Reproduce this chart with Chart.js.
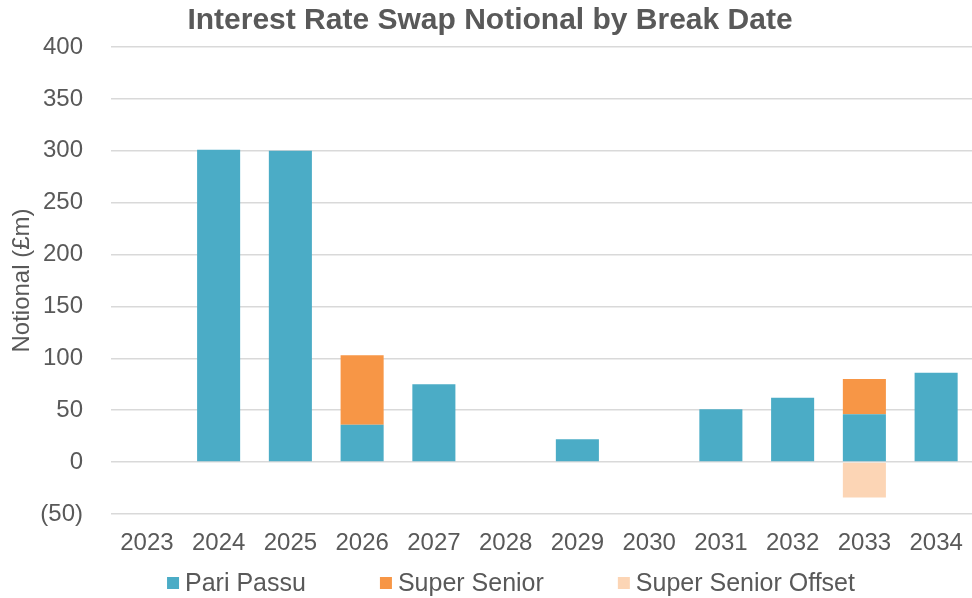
<!DOCTYPE html>
<html>
<head>
<meta charset="utf-8">
<script src="https://cdn.jsdelivr.net/npm/chart.js@4.4.1/dist/chart.umd.min.js"></script>
<style>
  html, body { margin: 0; padding: 0; background: #fff; }
  #wrap { width: 972px; height: 598px; }
</style>
</head>
<body>
<div id="wrap"><canvas id="chart" width="972" height="598"></canvas></div>
<script>
const YEARS = ['2023', '2024', '2025', '2026', '2027', '2028', '2029', '2030', '2031', '2032', '2033', '2034'];
const PARI_PASSU = [0, 301, 300, 36, 75, 0, 22, 0, 51, 62, 46, 86];
const SUPER_SENIOR = [0, 0, 0, 67, 0, 0, 0, 0, 0, 0, 34, 0];
const SUPER_SENIOR_OFFSET = [0, 0, 0, 0, 0, 0, 0, 0, 0, 0, -34, 0];

const TEXT = '#595959';
const FONT = "'Liberation Sans', Arial, sans-serif";

function bracketNumber(v){
    return v < 0 ? '(' + Math.abs(v) + ')' : String(v);
}

function makeSet(label, data, colour){
    return {
        label: label,
        data: data,
        backgroundColor: colour,
        borderWidth: 0,
        barPercentage: 0.6,
        categoryPercentage: 1.0
    };
}

// legend drawn by hand so the spacing can match the Excel one
const bottomLegend = {
    id: 'bottomLegend',
    afterDraw(chart){
        const c = chart.ctx;
        const box = 12, gap = 6, spacing = 74, y = 583;
        const sets = chart.data.datasets;
        c.save();
        c.font = '25px ' + FONT;
        c.textBaseline = 'middle';
        let total = 0;
        sets.forEach((d, i) => {
            total += box + gap + c.measureText(d.label).width + (i ? spacing : 0);
        });
        let x = 511 - total / 2;
        sets.forEach(d => {
            c.fillStyle = d.backgroundColor;
            c.fillRect(x, y - box / 2, box, box);
            x += box + gap;
            c.fillStyle = TEXT;
            c.fillText(d.label, x, y + 1);
            x += c.measureText(d.label).width + spacing;
        });
        c.restore();
    }
};

const ctx = document.getElementById('chart').getContext('2d');
new Chart(ctx, {
    type: 'bar',
    data: {
        labels: YEARS,
        datasets: [
            makeSet('Pari Passu', PARI_PASSU, '#4BACC6'),
            makeSet('Super Senior', SUPER_SENIOR, '#F79646'),
            makeSet('Super Senior Offset', SUPER_SENIOR_OFFSET, '#FCD5B5')
        ]
    },
    plugins: [bottomLegend],
    options: {
        responsive: false,
        animation: false,
        layout: { padding: { left: 5, right: -3, top: 0, bottom: 40 } },
        plugins: {
            title: {
                display: true,
                text: 'Interest Rate Swap Notional by Break Date',
                color: TEXT,
                font: { family: FONT, size: 30, weight: 'bold' },
                padding: { top: 3, bottom: 8 }
            },
            legend: { display: false },
            tooltip: { enabled: false }
        },
        scales: {
            x: {
                stacked: true,
                grid: { display: false, drawTicks: false },
                border: { display: false },
                ticks: { color: TEXT, font: { family: FONT, size: 24 }, padding: 15 },
                afterFit(scale){
                    scale.height = 44;
                    scale.paddingLeft = 0;
                    scale.paddingRight = 0;
                }
            },
            y: {
                stacked: true,
                min: -50,
                max: 400,
                grid: { color: '#D9D9D9', lineWidth: 1.5, drawTicks: false },
                border: { display: false },
                ticks: {
                    stepSize: 50,
                    color: TEXT,
                    font: { family: FONT, size: 24 },
                    padding: 28,
                    callback: bracketNumber
                },
                title: {
                    display: true,
                    text: 'Notional (£m)',
                    color: TEXT,
                    font: { family: FONT, size: 24 },
                    padding: 3
                },
                afterFit(scale){
                    scale.width = 106;
                }
            }
        }
    }
});
</script>
</body>
</html>
